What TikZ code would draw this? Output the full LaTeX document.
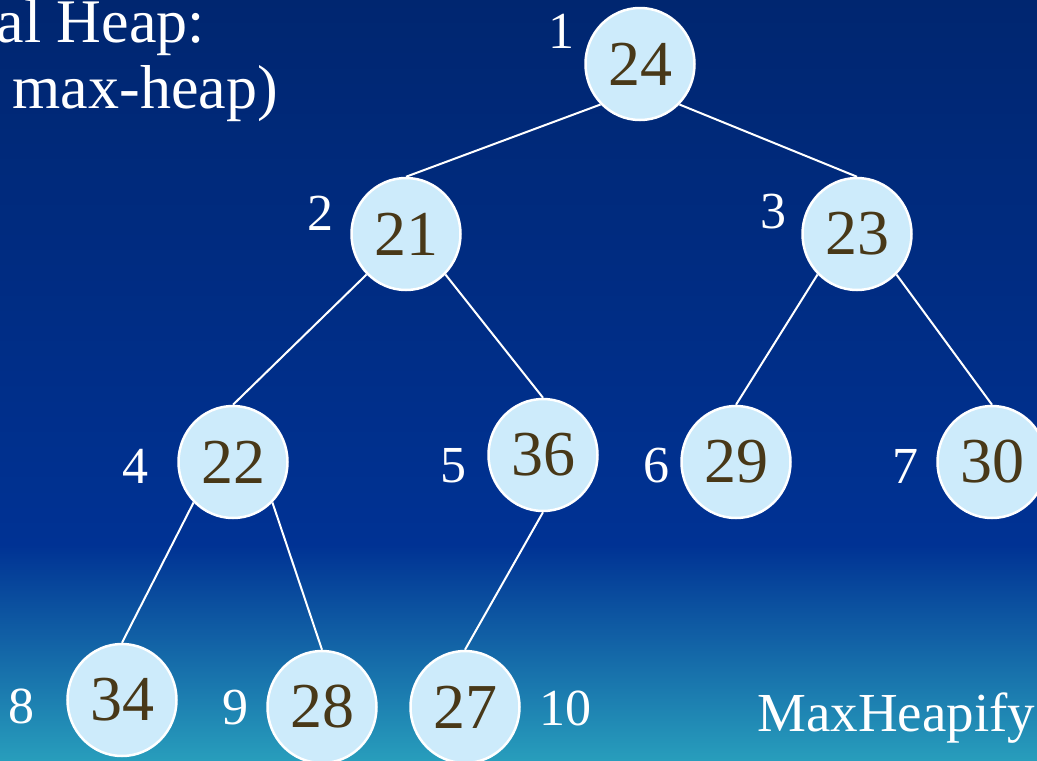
\documentclass[tikz,border=0pt]{standalone}
\usepackage{fontspec}
\setmainfont{Liberation Serif}
\usetikzlibrary{shapes.geometric}
\definecolor{bgtop}{RGB}{0,38,112}
\definecolor{bgmid}{RGB}{0,50,148}
\definecolor{bgbot}{RGB}{40,158,188}
\definecolor{keyfill}{RGB}{205,235,251}
\definecolor{keytext}{RGB}{72,56,24}

\begin{document}
\begin{tikzpicture}[x=1pt,y=-1pt,
  key/.style={ellipse,draw=white,line width=2.5pt,fill=keyfill,text=keytext,minimum width=109pt,minimum height=112pt,inner sep=0pt,font=\fontsize{64}{64}\selectfont},
  idx/.style={text=white,inner sep=0pt,font=\fontsize{52}{52}\selectfont},
  txt/.style={text=white,inner sep=0pt,font=\fontsize{55}{66}\selectfont},
  link/.style={white,line width=2pt}]
\useasboundingbox (0,0) rectangle (1037,761);
\clip (0,0) rectangle (1037,761);
% slide background
\shade[top color=bgtop,bottom color=bgmid] (0,0) rectangle (1037,545);
\shade[top color=bgmid,bottom color=bgbot] (0,545) rectangle (1037,761);
% heap keys
\node[key] (k1) at (640,64) {24};
\node[key] (k2) at (406,234) {21};\node[key] (k3) at (857,234) {23};
\node[key] (k4) at (233,462) {22};\node[key] (k5) at (543,455) {36};
\node[key] (k6) at (736,462) {29};\node[key] (k7) at (992,462) {30};
\node[key] (k8) at (122,700) {34};\node[key] (k9) at (322,707) {28};\node[key] (k10) at (465,707) {27};
% tree links, parent's lower side to child's top
\draw[link] (k1.south west)--(k2.north);\draw[link] (k1.south east)--(k3.north);
\draw[link] (k2.south west)--(k4.north);\draw[link] (k2.south east)--(k5.north);
\draw[link] (k3.south west)--(k6.north);\draw[link] (k3.south east)--(k7.north);
\draw[link] (k4.south west)--(k8.north);\draw[link] (k4.south east)--(k9.north);
\draw[link] (k5.south)--(k10.north);
% array indices
\node[idx] (i1) at (561,31) {1};\node[idx] (i2) at (320,213) {2};\node[idx] (i3) at (773,212) {3};
\node[idx] (i4) at (135,466) {4};\node[idx] (i5) at (453,466) {5};\node[idx] (i6) at (656,466) {6};\node[idx] (i7) at (905,466) {7};
\node[idx] (i8) at (22,706) {8};\node[idx] (i9) at (235,708) {9};\node[idx] (i10) at (565,708) {10};
% captions
\node[txt,font=\fontsize{62}{62}\selectfont,anchor=base east] (cap1) at (205,42) {al Heap:};
\node[txt,font=\fontsize{62}{62}\selectfont,anchor=base east] (cap2) at (278,108) {max-heap)};
\node[txt,anchor=base west] (call) at (757,731) {MaxHeapify(};
\end{tikzpicture}
\end{document}
